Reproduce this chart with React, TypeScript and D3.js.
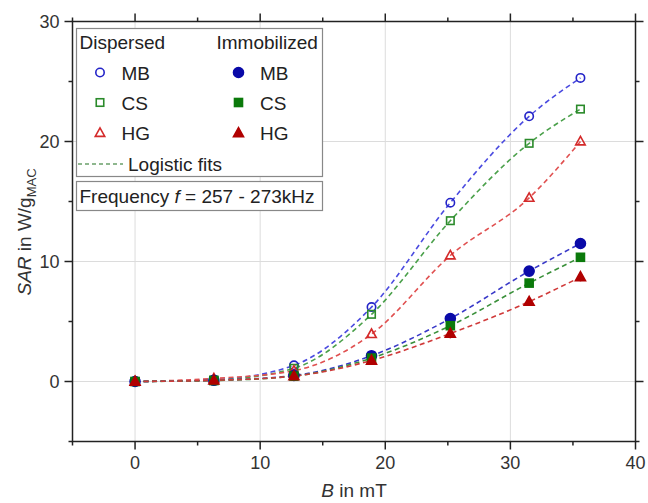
import React from "react";
import * as d3 from "d3";

const fieldB = [0, 6.3, 12.7, 18.9, 25.2, 31.5, 35.6];
const dispMB = [0, 0.15, 1.35, 6.2, 14.9, 22.1, 25.3];
const dispCS = [0, 0.12, 1.1, 5.6, 13.4, 19.85, 22.7];
const dispHG = [0, 0.25, 0.9, 3.95, 10.5, 15.3, 20.0];
const immMB = [0, 0.1, 0.5, 2.15, 5.25, 9.2, 11.5];
const immCS = [0, 0.08, 0.45, 1.95, 4.65, 8.2, 10.35];
const immHG = [0, 0.1, 0.45, 1.75, 4.0, 6.65, 8.7];
const immErr = [0, 0.1, 0.15, 0.25, 0.4, 0.35, 0.35];

const xTicks = [0, 10, 20, 30, 40];
const yTicks = [0, 10, 20, 30];
const xGrid = [0, 10, 20, 30];
const yGrid = [0, 10, 20];

const FONT = "'Liberation Sans', Arial, Helvetica, sans-serif";

type Series = { name: string; values: number[]; kind: "circle" | "square" | "triangle"; filled: boolean; color: string; fit: string; err?: number[] };

const series: Series[] = [
  { name: "dMB", values: dispMB, kind: "circle", filled: false, color: "#2424c8", fit: "#4b4be0" },
  { name: "dCS", values: dispCS, kind: "square", filled: false, color: "#2a8a2a", fit: "#4aa04a" },
  { name: "dHG", values: dispHG, kind: "triangle", filled: false, color: "#d42a2a", fit: "#e05050" },
  { name: "iMB", values: immMB, kind: "circle", filled: true, color: "#0a0aa8", fit: "#3838c8", err: immErr },
  { name: "iCS", values: immCS, kind: "square", filled: true, color: "#0b7a0b", fit: "#3a903a", err: immErr },
  { name: "iHG", values: immHG, kind: "triangle", filled: true, color: "#b00000", fit: "#d03a3a", err: immErr },
];

function Marker({ x, y, kind, filled, color }: { x: number; y: number; kind: string; filled: boolean; color: string }) {
  const fill = filled ? color : "none";
  const sw = 1.6;
  if (kind === "circle") {
    const r = filled ? 5 : 4.2;
    return <circle cx={x} cy={y} r={r} fill={fill} stroke={color} strokeWidth={sw} />;
  }
  if (kind === "square") {
    const s = filled ? 8 : 7.5;
    return <rect x={x - s / 2} y={y - s / 2} width={s} height={s} fill={fill} stroke={color} strokeWidth={sw} />;
  }
  const h = filled ? 9 : 8.5;
  const w = filled ? 10 : 9.5;
  const p = `M${x},${y - h * 0.6} L${x + w / 2},${y + h * 0.4} L${x - w / 2},${y + h * 0.4} Z`;
  return <path d={p} fill={fill} stroke={color} strokeWidth={sw} strokeLinejoin="miter" />;
}

export default function App() {
  const W = 648, H = 503;
  const left = 72.5, right = 635.5, top = 21.5, bottom = 441.5;
  const x = d3.scaleLinear().domain([-5, 40]).range([left, right]);
  const y = d3.scaleLinear().domain([-5, 30]).range([bottom, top]);
  const line = d3
    .line<number>()
    .x((_, i) => x(fieldB[i]))
    .y((d) => y(d))
    .curve(d3.curveMonotoneX);

  const majorX = xTicks;
  const minorX = d3.range(-5, 41, 5).filter((v) => !majorX.includes(v));
  const majorY = yTicks;
  const minorY = d3.range(-5, 31, 5).filter((v) => !majorY.includes(v));
  const axisColor = "#222";
  const maj = 8, mino = 4;

  const legendRows = [
    { label: "MB", d: series[0], i: series[3] },
    { label: "CS", d: series[1], i: series[4] },
    { label: "HG", d: series[2], i: series[5] },
  ];
  const rowY = [72.5, 102.5, 133];

  return (
    <svg width={W} height={H} style={{ position: "absolute", left: 0, top: 0, background: "#fff" }} fontFamily={FONT}>
      <rect x={0} y={0} width={W} height={H} fill="#fff" />
      {/* grid */}
      {xGrid.map((v) => (
        <line key={"gx" + v} x1={x(v)} x2={x(v)} y1={top} y2={bottom} stroke="#dcdcdc" strokeWidth={1} />
      ))}
      {yGrid.map((v) => (
        <line key={"gy" + v} x1={left} x2={right} y1={y(v)} y2={y(v)} stroke="#dcdcdc" strokeWidth={1} />
      ))}
      {/* fits */}
      {series.map((s) => (
        <path key={"f" + s.name} d={line(s.values) || ""} fill="none" stroke={s.fit} strokeWidth={1.6} strokeDasharray="5,3.5" />
      ))}
      {/* error bars */}
      {series.filter((s) => s.err).map((s) =>
        s.values.map((v, i) =>
          s.err![i] > 0.2 ? (
            <line key={"e" + s.name + i} x1={x(fieldB[i])} x2={x(fieldB[i])} y1={y(v - s.err![i])} y2={y(v + s.err![i])} stroke={s.color} strokeWidth={1.5} />
          ) : null
        )
      )}
      {/* markers */}
      {series.map((s) =>
        s.values.map((v, i) => (
          <Marker key={"m" + s.name + i} x={x(fieldB[i])} y={y(v)} kind={s.kind} filled={s.filled} color={s.color} />
        ))
      )}
      {/* frame */}
      <rect x={left} y={top} width={right - left} height={bottom - top} fill="none" stroke={axisColor} strokeWidth={1.5} />
      {/* x ticks */}
      {majorX.map((v) => (
        <g key={"xt" + v}>
          <line x1={x(v)} x2={x(v)} y1={bottom} y2={bottom + maj} stroke={axisColor} strokeWidth={1.5} />
          <line x1={x(v)} x2={x(v)} y1={top} y2={top - maj} stroke={axisColor} strokeWidth={1.5} />
          <text x={x(v)} y={bottom + 27} textAnchor="middle" fontSize={18} fill="#333">{v}</text>
        </g>
      ))}
      {minorX.map((v) => (
        <g key={"xm" + v}>
          <line x1={x(v)} x2={x(v)} y1={bottom} y2={bottom + mino} stroke={axisColor} strokeWidth={1.5} />
          <line x1={x(v)} x2={x(v)} y1={top} y2={top - mino} stroke={axisColor} strokeWidth={1.5} />
        </g>
      ))}
      {majorY.map((v) => (
        <g key={"yt" + v}>
          <line x1={left} x2={left - maj} y1={y(v)} y2={y(v)} stroke={axisColor} strokeWidth={1.5} />
          <line x1={right} x2={right + maj} y1={y(v)} y2={y(v)} stroke={axisColor} strokeWidth={1.5} />
          <text x={left - 13} y={y(v) + 6.5} textAnchor="end" fontSize={18} fill="#333">{v}</text>
        </g>
      ))}
      {minorY.map((v) => (
        <g key={"ym" + v}>
          <line x1={left} x2={left - mino} y1={y(v)} y2={y(v)} stroke={axisColor} strokeWidth={1.5} />
          <line x1={right} x2={right + mino} y1={y(v)} y2={y(v)} stroke={axisColor} strokeWidth={1.5} />
        </g>
      ))}
      {/* axis titles */}
      <text x={(left + right) / 2} y={497} textAnchor="middle" fontSize={19} fill="#333">
        <tspan fontStyle="italic">B</tspan> in mT
      </text>
      <text transform={`translate(31, ${232}) rotate(-90)`} textAnchor="middle" fontSize={19} fill="#333">
        <tspan fontStyle="italic">SAR</tspan> in W/g<tspan fontSize={13} dy={5}>MAC</tspan>
      </text>
      {/* legend */}
      <rect x={76.5} y={28.5} width={246} height={148} fill="#fff" stroke="#888" strokeWidth={1.2} />
      <text x={79.5} y={48.5} fontSize={19} fill="#222">Dispersed</text>
      <text x={216.5} y={48.5} fontSize={19} fill="#222">Immobilized</text>
      {legendRows.map((r, k) => (
        <g key={"lg" + k}>
          <Marker x={100} y={rowY[k]} kind={r.d.kind} filled={false} color={r.d.color} />
          <text x={121.5} y={rowY[k] + 7} fontSize={19} fill="#222">{r.label}</text>
          <Marker x={238.5} y={rowY[k]} kind={r.i.kind} filled={true} color={r.i.color} />
          <text x={260} y={rowY[k] + 7} fontSize={19} fill="#222">{r.label}</text>
        </g>
      ))}
      <line x1={78} x2={123} y1={164} y2={164} stroke="#6aa06a" strokeWidth={1.4} strokeDasharray="4,3" />
      <text x={128} y={170.5} fontSize={19} fill="#222">Logistic fits</text>
      <rect x={76.5} y={181.5} width={246} height={29} fill="#fff" stroke="#888" strokeWidth={1.2} />
      <text x={79.5} y={203} fontSize={19} fill="#222">
        Frequency <tspan fontStyle="italic">f</tspan> = 257 - 273kHz
      </text>
    </svg>
  );
}
